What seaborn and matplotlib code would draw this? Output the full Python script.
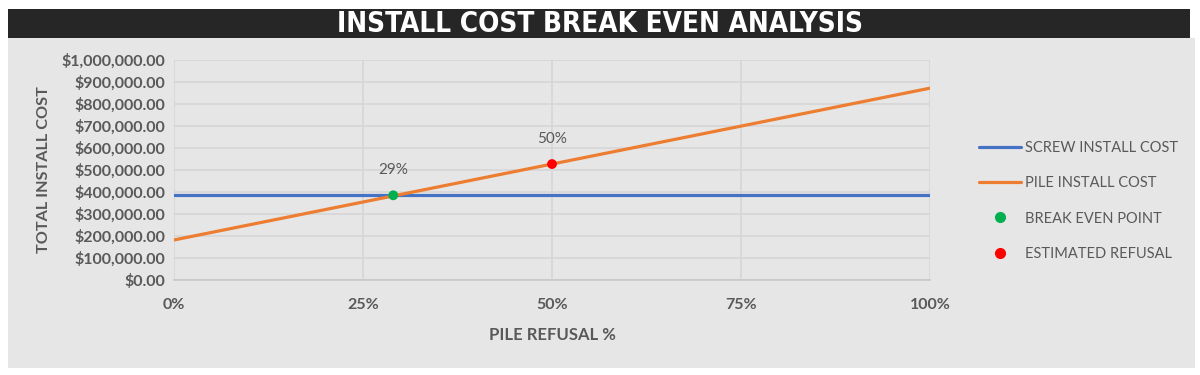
import seaborn as sns
import matplotlib.pyplot as plt
import pandas as pd
from matplotlib.patches import Rectangle
from matplotlib.ticker import FuncFormatter, PercentFormatter

# data
refusal = [0.0, 1.0]
screw_cost = [385000, 385000]
pile_cost = [182000, 872000]
break_even_x = [0.29]
break_even_y = [385000]
estimated_x = [0.50]
estimated_y = [527000]
point_labels = ["29%", "50%"]

sns.set_style("whitegrid")
plt.rcParams['font.family'] = ['Lato', 'DejaVu Sans']

text_gray = "#595959"
bg_gray = "#e7e6e6"

fig = plt.figure(figsize=(12, 3.75), dpi=100)
fig.patch.set_facecolor("white")

# panel background and title bar
fig.patches.append(Rectangle((8 / 1200, 7 / 375), 1187 / 1200, 330 / 375,
                             transform=fig.transFigure, facecolor=bg_gray,
                             edgecolor="none", zorder=-2))
fig.patches.append(Rectangle((8 / 1200, 1 - 38 / 375), 1182 / 1200, 29 / 375,
                             transform=fig.transFigure, facecolor="#262626",
                             edgecolor="none", zorder=-1))
fig.text(0.5, 1 - 24 / 375, "INSTALL COST BREAK EVEN ANALYSIS", color="white",
         ha="center", va="center", fontsize=20, fontweight="bold",
         fontstretch="condensed", family=['DejaVu Sans'])

ax = fig.add_axes([174 / 1200, 1 - 280 / 375, 756 / 1200, 220 / 375])
ax.set_facecolor(bg_gray)

lines = pd.DataFrame({
    "x": refusal * 2,
    "y": screw_cost + pile_cost,
    "series": ["SCREW INSTALL COST"] * 2 + ["PILE INSTALL COST"] * 2,
})
sns.lineplot(data=lines, x="x", y="y", hue="series", ax=ax,
             palette=["#4472C4", "#ED7D31"], linewidth=2.3, legend=False)
sns.scatterplot(x=break_even_x, y=break_even_y, color="#00B050", s=50,
                edgecolor="none", ax=ax, zorder=5)
sns.scatterplot(x=estimated_x, y=estimated_y, color="#FF0000", s=50,
                edgecolor="none", ax=ax, zorder=5)

for px, py, lab in zip(break_even_x + estimated_x, break_even_y + estimated_y, point_labels):
    ax.annotate(lab, (px, py), xytext=(0, 13), textcoords="offset points",
                ha="center", va="bottom", color=text_gray, fontsize=11)

ax.set_xlim(0, 1)
ax.set_ylim(0, 1000000)
ax.set_xticks([0, 0.25, 0.5, 0.75, 1.0])
ax.set_yticks(range(0, 1000001, 100000))
ax.xaxis.set_major_formatter(PercentFormatter(1.0, decimals=0))
ax.yaxis.set_major_formatter(FuncFormatter(lambda v, p: f"${v:,.2f}"))
ax.grid(True, color="#d6d6d6", linewidth=1.2)
for s in ["top", "right", "left"]:
    ax.spines[s].set_visible(False)
ax.spines["bottom"].set_color("#c8c8c8")
ax.spines["bottom"].set_linewidth(1.2)
ax.tick_params(axis="both", colors=text_gray, labelsize=11.5, length=0)
ax.tick_params(axis="x", pad=13)
ax.tick_params(axis="y", pad=6)
for t in ax.get_xticklabels() + ax.get_yticklabels():
    t.set_fontweight("bold")

ax.set_xlabel("PILE REFUSAL %", color=text_gray, fontsize=12,
              fontweight="bold", labelpad=11)
ax.set_ylabel("TOTAL INSTALL COST", color=text_gray, fontsize=11.7,
              fontweight="bold", labelpad=8)

handles = [
    plt.Line2D([], [], color="#4472C4", linewidth=2.3),
    plt.Line2D([], [], color="#ED7D31", linewidth=2.3),
    plt.Line2D([], [], color="#00B050", marker="o", linestyle="none", markersize=7),
    plt.Line2D([], [], color="#FF0000", marker="o", linestyle="none", markersize=7),
]
labels = ["SCREW INSTALL COST", "PILE INSTALL COST", "BREAK EVEN POINT", "ESTIMATED REFUSAL"]
leg = fig.legend(handles, labels, loc="center left",
                 bbox_to_anchor=(966 / 1200, 1 - 201 / 375), frameon=False,
                 fontsize=10.5, handlelength=2.9, handletextpad=0.25,
                 labelspacing=1.45, labelcolor=text_gray)

fig.savefig("out.png", dpi=100, facecolor=fig.get_facecolor())
plt.close(fig)
